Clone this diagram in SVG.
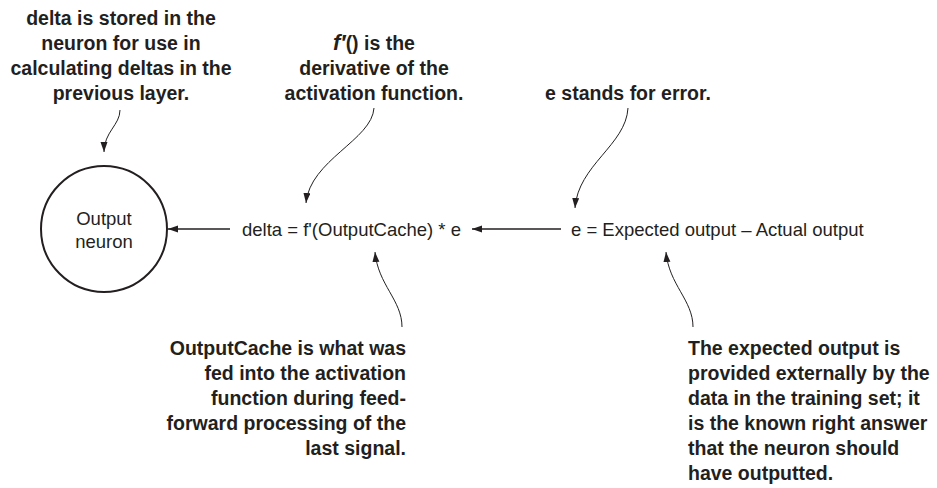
<svg xmlns="http://www.w3.org/2000/svg" width="937" height="488" viewBox="0 0 937 488">
<style>
.note{font-family:"Liberation Sans",Arial,sans-serif;font-weight:bold;font-size:19.5px;fill:#231f20}
.eq{font-family:"Liberation Sans",Arial,sans-serif;font-size:18.5px;fill:#231f20}
.conn{fill:none;stroke:#231f20;stroke-width:1.3}
.curve{fill:none;stroke:#231f20;stroke-width:1}
</style>
<defs>
<marker id="ah" markerUnits="userSpaceOnUse" markerWidth="11" markerHeight="8" refX="10" refY="3.5" orient="auto">
<path d="M0,0 L10,3.5 L0,7 Z" fill="#231f20"/>
</marker>
</defs>
<rect width="937" height="488" fill="#ffffff"/>
<g id="note-delta-stored">
<text class="note" text-anchor="middle" x="121" y="25">delta is stored in the</text>
<text class="note" text-anchor="middle" x="121" y="50">neuron for use in</text>
<text class="note" text-anchor="middle" x="121" y="75">calculating deltas in the</text>
<text class="note" text-anchor="middle" x="121" y="100">previous layer.</text>
</g>
<g id="note-derivative">
<text class="note" text-anchor="middle" x="374" y="50"><tspan font-style="italic" font-size="22px">f′</tspan>() is the</text>
<text class="note" text-anchor="middle" x="374" y="75">derivative of the</text>
<text class="note" text-anchor="middle" x="374" y="100">activation function.</text>
</g>
<g id="note-error">
<text class="note" text-anchor="middle" x="628" y="100">e stands for error.</text>
</g>
<g id="output-neuron">
<circle cx="104" cy="229" r="63" fill="none" stroke="#231f20" stroke-width="2"/>
<text class="eq" text-anchor="middle" x="104" y="225">Output</text>
<text class="eq" text-anchor="middle" x="104" y="248">neuron</text>
</g>
<g id="delta-eq">
<text class="eq" x="242" y="236">delta = f'(OutputCache) * e</text>
</g>
<g id="error-eq">
<text class="eq" x="571" y="236">e = Expected output – Actual output</text>
</g>
<g id="note-outputcache">
<text class="note" text-anchor="end" x="406" y="355">OutputCache is what was</text>
<text class="note" text-anchor="end" x="406" y="380">fed into the activation</text>
<text class="note" text-anchor="end" x="406" y="405">function during feed-</text>
<text class="note" text-anchor="end" x="406" y="430">forward processing of the</text>
<text class="note" text-anchor="end" x="406" y="455">last signal.</text>
</g>
<g id="note-expected">
<text class="note" x="688" y="355">The expected output is</text>
<text class="note" x="688" y="380">provided externally by the</text>
<text class="note" x="688" y="405">data in the training set; it</text>
<text class="note" x="688" y="430">is the known right answer</text>
<text class="note" x="688" y="455">that the neuron should</text>
<text class="note" x="688" y="480">have outputted.</text>
</g>
<g id="connectors">
<line class="conn" x1="230" y1="229" x2="168" y2="229" marker-end="url(#ah)"/>
<line class="conn" x1="561" y1="229" x2="472" y2="229" marker-end="url(#ah)"/>
<path class="curve" d="M120,110 C120,125 104,132 104,152" marker-end="url(#ah)"/>
<path class="curve" d="M374,108 C372,140 310,160 306,203" marker-end="url(#ah)"/>
<path class="curve" d="M628,108 C626,145 578,165 575,208" marker-end="url(#ah)"/>
<path class="curve" d="M402,327 C402,300 378,285 375,252" marker-end="url(#ah)"/>
<path class="curve" d="M693,327 C693,300 669,285 666,252" marker-end="url(#ah)"/>
</g>
</svg>
